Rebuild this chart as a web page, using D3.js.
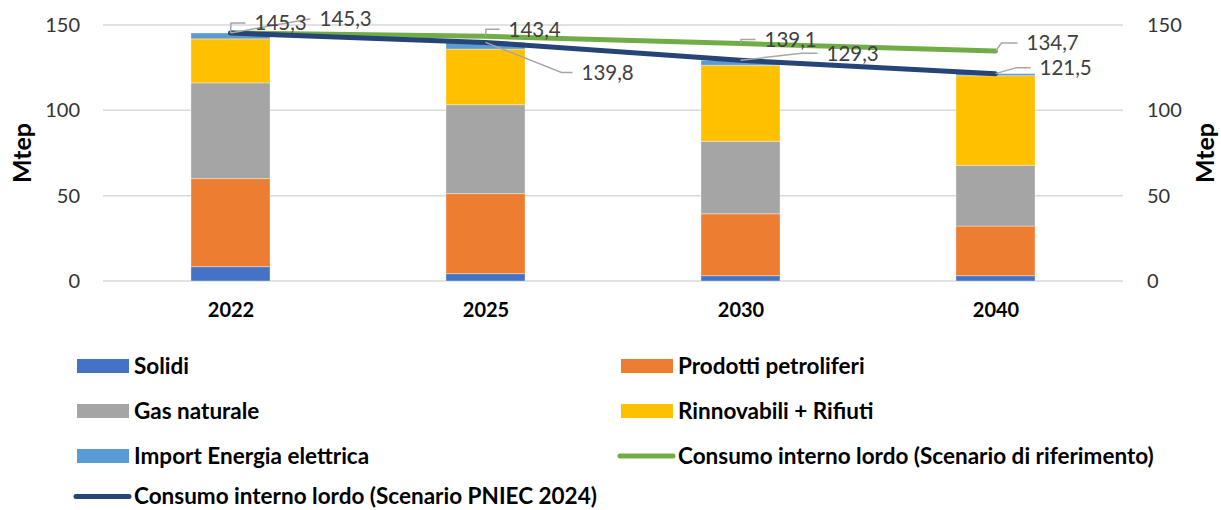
<!DOCTYPE html>
<html>
<head>
<meta charset="utf-8">
<script src="https://cdn.jsdelivr.net/npm/d3@7"></script>
<style>
  body { margin: 0; background: #fff; }
  svg { display: block; font-family: Lato, "Open Sans", sans-serif; }
</style>
</head>
<body>
<svg id="chart" width="1221" height="510"></svg>
<script>
// dati (Mtep)
const years = ["2022", "2025", "2030", "2040"];
const solidi = [8.4, 4.3, 3.1, 3.1];
const prodotti = [51.6, 46.9, 36.3, 29.1];
const gas = [56.1, 52.1, 42.5, 35.6];
const rinnovabili = [25.8, 32.6, 44.5, 52.5];
const importEE = [3.4, 3.9, 2.9, 1.2];
const consumoRif = [145.3, 143.4, 139.1, 134.7];
const consumoPniec = [145.3, 139.8, 129.3, 121.5];
const yTicks = [0, 50, 100, 150];

const width = 1221;
const height = 510;
const plotLeft = 103, plotRight = 1123, plotTop = 25, plotBottom = 281;

const stackKeys = ["solidi", "prodotti", "gas", "rinnovabili", "importEE"];
const colors = {
    solidi: "#4472c4",
    prodotti: "#ed7d31",
    gas: "#a5a5a5",
    rinnovabili: "#ffc000",
    importEE: "#5b9bd5",
    rif: "#70ad47",
    pniec: "#264478"
};

const table = years.map((y, i) => ({
    year: y,
    solidi: solidi[i],
    prodotti: prodotti[i],
    gas: gas[i],
    rinnovabili: rinnovabili[i],
    importEE: importEE[i]
}));

const svg = d3.select("#chart");

const x = d3.scalePoint().domain(years).range([plotLeft, plotRight]).padding(0.5);
const y = d3.scaleLinear().domain([0, 150]).range([plotBottom, plotTop]);
const barW = x.step() * 0.31;

// griglia
svg.append("g")
    .selectAll("line")
    .data(yTicks)
    .join("line")
    .attr("x1", plotLeft)
    .attr("x2", plotRight)
    .attr("y1", d => y(d))
    .attr("y2", d => y(d))
    .attr("stroke", "#d9d9d9")
    .attr("stroke-width", 1.5);

// assi (solo etichette)
const axisL = svg.append("g")
    .attr("transform", `translate(${plotLeft - 23},0)`)
    .call(d3.axisLeft(y).tickValues(yTicks).tickSize(0).tickPadding(0));
const axisR = svg.append("g")
    .attr("transform", `translate(${plotRight + 24},0)`)
    .call(d3.axisRight(y).tickValues(yTicks).tickSize(0).tickPadding(0));
[axisL, axisR].forEach(a => {
    a.select(".domain").remove();
    a.selectAll("text")
        .attr("font-family", "Lato, sans-serif")
        .attr("font-size", 20)
        .attr("fill", "#333");
});

const axisX = svg.append("g")
    .attr("transform", `translate(0,${plotBottom})`)
    .call(d3.axisBottom(x).tickSize(0).tickPadding(22));
axisX.select(".domain").remove();
axisX.selectAll("text")
    .attr("font-family", "Lato, sans-serif")
    .attr("font-size", 20)
    .attr("font-weight", "bold")
    .attr("fill", "#000");

// titoli asse
svg.append("text")
    .attr("transform", `translate(31,153) rotate(-90)`)
    .attr("text-anchor", "middle")
    .attr("font-size", 25)
    .attr("font-weight", "bold")
    .text("Mtep");
svg.append("text")
    .attr("transform", `translate(1214,153) rotate(-90)`)
    .attr("text-anchor", "middle")
    .attr("font-size", 25)
    .attr("font-weight", "bold")
    .text("Mtep");

// barre impilate
const series = d3.stack().keys(stackKeys)(table);
svg.append("g")
    .selectAll("g")
    .data(series)
    .join("g")
    .attr("fill", d => colors[d.key])
    .selectAll("rect")
    .data(d => d)
    .join("rect")
    .attr("x", d => x(d.data.year) - barW / 2)
    .attr("width", barW)
    .attr("y", d => y(d[1]))
    .attr("height", d => y(d[0]) - y(d[1]))
    .attr("stroke", "rgba(255,255,255,0.35)")
    .attr("stroke-width", 1);

// linee
const line = d3.line().x((d, i) => x(years[i])).y(d => y(d));
svg.append("path")
    .datum(consumoRif)
    .attr("d", line)
    .attr("fill", "none")
    .attr("stroke", colors.rif)
    .attr("stroke-width", 5)
    .attr("stroke-linecap", "round")
    .attr("stroke-linejoin", "round");
svg.append("path")
    .datum(consumoPniec)
    .attr("d", line)
    .attr("fill", "none")
    .attr("stroke", colors.pniec)
    .attr("stroke-width", 5)
    .attr("stroke-linecap", "round")
    .attr("stroke-linejoin", "round");

// etichette dati con linee guida: [dx testo, dy centro testo, dx gomito] rispetto al punto
const labelRif = [[89, -14, 79], [23, -7, 0.5], [24, -4, 0.5], [31, -8, 6]];
const labelPniec = [[24, -10, 0.5], [96, 30, 76], [86, -7, 61], [44, -6, 21]];

function drawLabels(values, offs) {
    values.forEach((v, i) => {
        const px = x(years[i]), py = y(v);
        const [lx, ly, ex] = offs[i];
        const tx = px + lx, ty = py + ly;
        svg.append("polyline")
            .attr("points", [[px, py], [px + ex, ty], [tx - 9, ty]].map(p => p.join(",")).join(" "))
            .attr("fill", "none")
            .attr("stroke", "#a6a6a6")
            .attr("stroke-width", 1.5);
        svg.append("text")
            .attr("x", tx)
            .attr("y", ty)
            .attr("dy", "0.36em")
            .attr("font-size", 20.5)
            .attr("fill", "#404040")
            .text(d3.format(".1f")(v).replace(".", ","));
    });
}
drawLabels(consumoRif, labelRif);
drawLabels(consumoPniec, labelPniec);

// legenda
const legendItems = [
    { key: "solidi", label: "Solidi", type: "rect" },
    { key: "prodotti", label: "Prodotti petroliferi", type: "rect" },
    { key: "gas", label: "Gas naturale", type: "rect" },
    { key: "rinnovabili", label: "Rinnovabili + Rifiuti", type: "rect" },
    { key: "importEE", label: "Import Energia elettrica", type: "rect" },
    { key: "rif", label: "Consumo interno lordo (Scenario di riferimento)", type: "line" },
    { key: "pniec", label: "Consumo interno lordo (Scenario PNIEC 2024)", type: "line" }
];
const legendColX = [77, 621];
const legendRowY = [366, 411, 456, 496.5];

const leg = svg.append("g")
    .selectAll("g")
    .data(legendItems)
    .join("g")
    .attr("transform", (d, i) => `translate(${legendColX[i % 2]},${legendRowY[Math.floor(i / 2)]})`);

leg.filter(d => d.type === "rect")
    .append("rect")
    .attr("x", 0)
    .attr("y", -7)
    .attr("width", 52)
    .attr("height", 14)
    .attr("fill", d => colors[d.key]);
leg.filter(d => d.type === "line")
    .append("line")
    .attr("x1", -1)
    .attr("x2", 52)
    .attr("stroke", d => colors[d.key])
    .attr("stroke-width", 5)
    .attr("stroke-linecap", "round");
leg.append("text")
    .attr("x", 57)
    .attr("dy", "0.35em")
    .attr("font-size", 22.5)
    .attr("font-weight", "bold")
    .attr("fill", "#000")
    .text(d => d.label);
</script>
</body>
</html>
